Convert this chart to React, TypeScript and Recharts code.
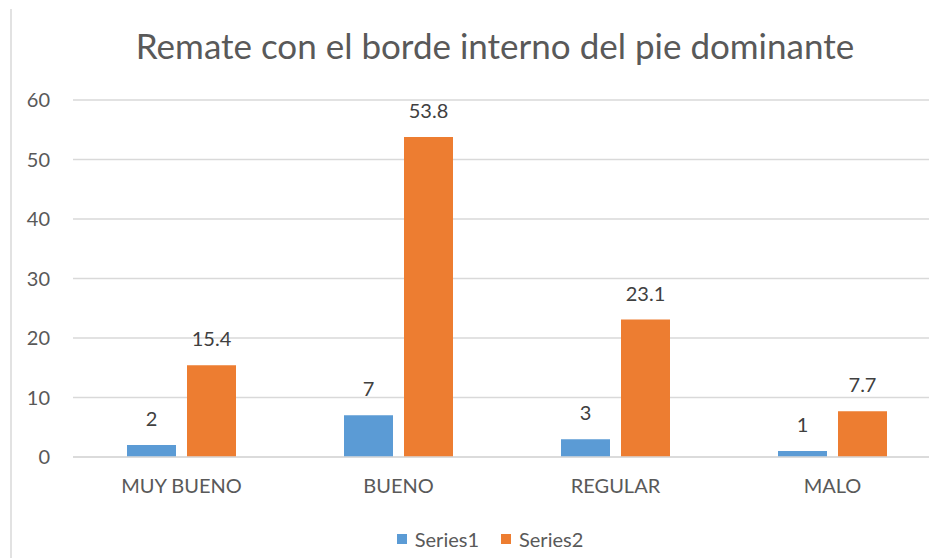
import { Bar, BarChart, CartesianGrid, LabelList, Legend, XAxis, YAxis } from "recharts";

const categories = ["MUY BUENO", "BUENO", "REGULAR", "MALO"];
const series1 = [2, 7, 3, 1];
const series2 = [15.4, 53.8, 23.1, 7.7];
const yTicks = [0, 10, 20, 30, 40, 50, 60];

const data = categories.map((name, i) => ({
  name,
  Series1: series1[i],
  Series2: series2[i],
}));

const FONT = "Lato, 'Open Sans', sans-serif";
const GREY = "#595959";

function LegendBox({ payload }: any) {
  return (
    <div style={{ display: "flex", justifyContent: "center", alignItems: "center", fontSize: 20, color: GREY }}>
      {(payload || []).map((p: any, i: number) => (
        <div key={p.value} style={{ display: "flex", alignItems: "center", marginLeft: i ? 22 : 0 }}>
          <span style={{ width: 10, height: 10, background: p.color, marginRight: 8, display: "inline-block" }} />
          <span>{p.value}</span>
        </div>
      ))}
    </div>
  );
}

export default function App() {
  return (
    <div
      style={{
        position: "absolute",
        left: 0,
        top: 0,
        width: 929,
        height: 558,
        overflow: "hidden",
        background: "#fff",
        fontFamily: FONT,
      }}
    >
      <div
        style={{
          position: "absolute",
          left: 10,
          top: 9,
          width: 2,
          height: 560,
          background: "#e2e2e2",
        }}
      />
      <div
        style={{
          position: "absolute",
          left: 0,
          top: 24,
          width: 990,
          textAlign: "center",
          fontSize: 35,
          color: GREY,
          lineHeight: "42px",
        }}
      >
        Remate con el borde interno del pie dominante
      </div>
      <div style={{ position: "absolute", left: 0, top: 0 }}>
        <BarChart
          width={960}
          height={558}
          data={data}
          margin={{ top: 100, right: 19, left: 0, bottom: 1 }}
          barSize={49}
          barGap={11}
        >
          <CartesianGrid vertical={false} stroke="#d9d9d9" strokeWidth={1.5} />
          <XAxis
            dataKey="name"
            height={70}
            axisLine={{ stroke: "#d9d9d9", strokeWidth: 1.5 }}
            tickLine={false}
            tickSize={0}
            tickMargin={22}
            tick={{ fill: GREY, fontSize: 20, fontFamily: FONT }}
          />
          <YAxis
            width={73}
            domain={[0, 60]}
            ticks={yTicks}
            axisLine={false}
            tickLine={false}
            tickSize={0}
            tickMargin={23}
            tick={{ fill: GREY, fontSize: 20, fontFamily: FONT }}
          />
          <Legend
            verticalAlign="bottom"
            height={30}
            wrapperStyle={{ left: 0, width: 980, fontFamily: FONT }}
            content={<LegendBox />}
          />
          <Bar dataKey="Series1" fill="#5b9bd5" isAnimationActive={false}>
            <LabelList dataKey="Series1" position="top" offset={19} fill="#404040" fontSize={20} fontFamily={FONT} />
          </Bar>
          <Bar dataKey="Series2" fill="#ed7d31" isAnimationActive={false}>
            <LabelList dataKey="Series2" position="top" offset={19} fill="#404040" fontSize={20} fontFamily={FONT} />
          </Bar>
        </BarChart>
      </div>
    </div>
  );
}
